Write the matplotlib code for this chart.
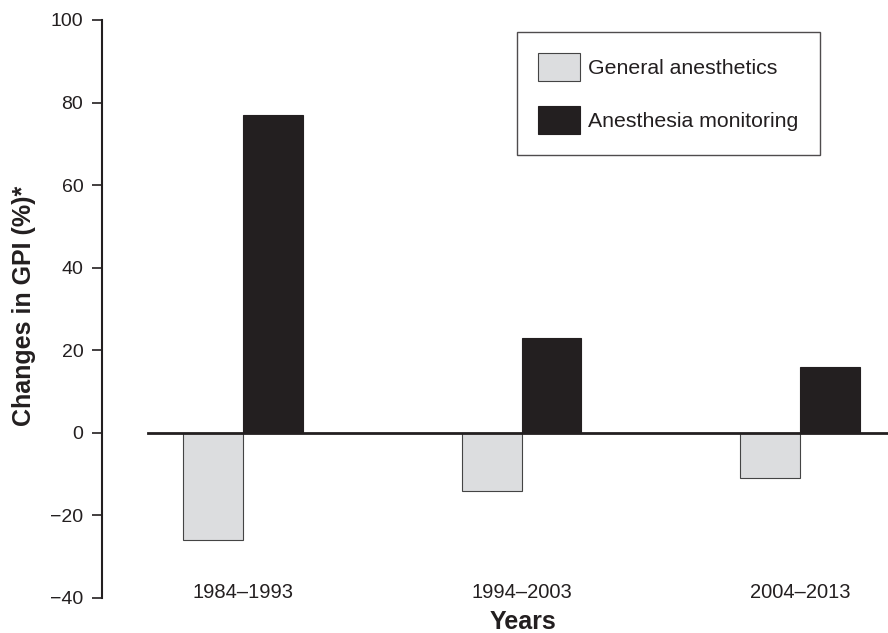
import matplotlib
matplotlib.use("Agg")
import matplotlib.pyplot as plt
import numpy as np

plt.rcParams['font.family'] = ['Liberation Sans', 'DejaVu Sans']

categories = ["1984\u20131993", "1994\u20132003", "2004\u20132013"]
general_anesthetics = [-26, -14, -11]
anesthesia_monitoring = [77, 23, 16]
series_names = ["General anesthetics", "Anesthesia monitoring"]
yticks = [-40, -20, 0, 20, 40, 60, 80, 100]
ytick_labels = ["\u221240", "\u221220", "0", "20", "40", "60", "80", "100"]

dark = "#231f20"
light = "#dcdddf"

fig = plt.figure(figsize=(8.88, 6.33), dpi=100)
ax = fig.add_axes([102/888, 35/633, 786/888, 578/633])

x = np.arange(len(categories))
w = 0.215
ax.bar(x - w/2, general_anesthetics, width=w, color=light, edgecolor="#444444",
       linewidth=0.8, label=series_names[0], zorder=2)
ax.bar(x + w/2, anesthesia_monitoring, width=w, color=dark, edgecolor=dark,
       linewidth=0.8, label=series_names[1], zorder=2)

ax.set_xlim(-0.507, 2.316)
ax.set_ylim(-40, 100)
ax.axhline(0, xmin=(148-102)/786, xmax=1.0, color=dark, linewidth=2.0, zorder=3)

for s in ["top", "right", "bottom"]:
    ax.spines[s].set_visible(False)
ax.spines["left"].set_color(dark)
ax.spines["left"].set_linewidth(1.5)
ax.spines["left"].set_bounds(-40, 100)

ax.set_yticks(yticks)
ax.set_yticklabels(ytick_labels)
ax.tick_params(axis="y", direction="out", length=7.5, width=1.2, color=dark,
               labelsize=14, labelcolor=dark, pad=6)
ax.set_xticks([])

trans = ax.get_xaxis_transform()
for xi, lab in zip(x, categories):
    ax.text(xi, 0, lab, transform=trans, ha="center", va="baseline",
            fontsize=14.5, color=dark)

fig.text(523/888, 1 - 629/633, "Years", ha="center", va="baseline",
         fontsize=18, fontweight="bold", color=dark)
fig.text(24/888, 1 - 306/633, "Changes in GPI (%)*", ha="center", va="center",
         rotation=90, fontsize=18, fontweight="bold", color=dark)

leg = ax.legend(loc="upper left", bbox_to_anchor=(517/888, 1 - 32/633),
                bbox_transform=fig.transFigure, fontsize=15.3,
                handlelength=1.98, handleheight=1.65, labelspacing=1.15,
                handletextpad=0.38, borderpad=1.0, borderaxespad=0,
                fancybox=False, frameon=True)
leg.get_frame().set_edgecolor(dark)
leg.get_frame().set_linewidth(1.0)
for t in leg.get_texts():
    t.set_color(dark)

fig.savefig("out.png", dpi=100)
